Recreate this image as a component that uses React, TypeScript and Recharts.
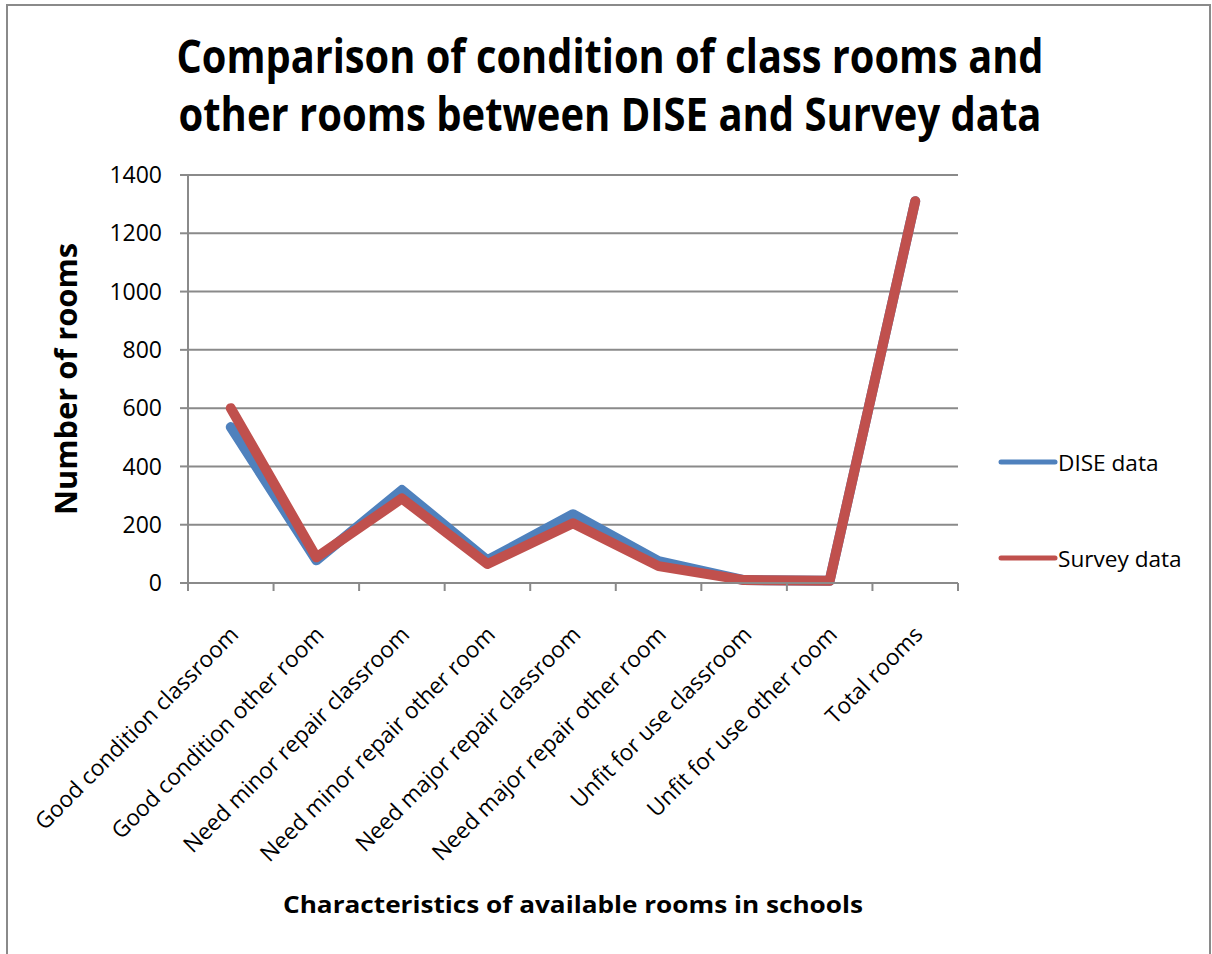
import React from "react";
import { LineChart, Line, XAxis, YAxis, CartesianGrid, Legend } from "recharts";

const categories = [
  "Good condition classroom",
  "Good condition other room",
  "Need minor repair classroom",
  "Need minor repair other room",
  "Need major repair classroom",
  "Need major repair other room",
  "Unfit for use classroom",
  "Unfit for use other room",
  "Total rooms",
];
const diseData = [535, 78, 319, 78, 236, 75, 10, 8, 1310];
const surveyData = [600, 88, 290, 65, 205, 58, 10, 8, 1310];
const yTicks = [0, 200, 400, 600, 800, 1000, 1200, 1400];

const data = categories.map((c, i) => ({ cat: c, dise: diseData[i], survey: surveyData[i] }));

const W = 1212;
const H = 954;
const PLOT_LEFT = 188;
const PLOT_RIGHT = 958;
const PLOT_TOP = 175;
const PLOT_BOTTOM = 583;
const HALF = (PLOT_RIGHT - PLOT_LEFT) / categories.length / 2;
const AXIS = "#8a8a8a";
const FONT = "'Open Sans', sans-serif";

const XTick = (props: any) => {
  const { x, payload, index } = props;
  const ay = PLOT_BOTTOM;
  const ax = x + 9;
  const ty = ay + 53;
  return (
    <g>
      <line x1={x - HALF} y1={ay} x2={x - HALF} y2={ay + 8} stroke={AXIS} strokeWidth={2} />
      {index === categories.length - 1 && (
        <line x1={x + HALF} y1={ay} x2={x + HALF} y2={ay + 8} stroke={AXIS} strokeWidth={2} />
      )}
      <text
        x={ax}
        y={ty}
        textAnchor="end"
        transform={`rotate(-45 ${ax} ${ty})`}
        fontSize={22.6}
        fontFamily={FONT}
        fill="#000"
      >
        {payload.value}
      </text>
    </g>
  );
};

const LegendContent = (props: any) => {
  const { payload } = props;
  return (
    <div style={{ position: "relative", width: 210, height: 140 }}>
      {(payload || []).map((p: any, i: number) => (
        <div
          key={i}
          style={{
            position: "absolute",
            left: 0,
            top: i * 96,
            height: 30,
            display: "flex",
            alignItems: "center",
          }}
        >
          <svg width={60} height={30} style={{ display: "block" }}>
            <line x1={3} y1={15} x2={57} y2={15} stroke={p.color} strokeWidth={5} strokeLinecap="round" />
          </svg>
          <span style={{ fontFamily: FONT, fontSize: 22.6, color: "#000", whiteSpace: "nowrap" }}>{p.value}</span>
        </div>
      ))}
    </div>
  );
};

export default function App() {
  return (
    <div style={{ position: "absolute", left: 0, top: 0, width: W, height: H, background: "#fff", overflow: "hidden" }}>
      <div
        style={{
          position: "absolute",
          left: 6,
          top: 4,
          width: 1205,
          height: 1000,
          boxSizing: "border-box",
          border: `2px solid ${AXIS}`,
        }}
      />
      <div style={{ position: "absolute", left: 0, top: 0 }}>
        <LineChart
          width={W}
          height={H}
          data={data}
          margin={{ top: PLOT_TOP, right: W - PLOT_RIGHT, bottom: 0, left: 0 }}
        >
          <CartesianGrid horizontal={true} vertical={false} stroke={AXIS} strokeWidth={2} />
          <XAxis
            dataKey="cat"
            interval={0}
            height={H - PLOT_BOTTOM}
            padding={{ left: HALF, right: HALF }}
            axisLine={{ stroke: AXIS, strokeWidth: 2 }}
            tickLine={false}
            tickSize={8}
            tickMargin={2}
            tick={<XTick />}
          />
          <YAxis
            width={PLOT_LEFT}
            domain={[0, 1400]}
            ticks={yTicks}
            interval={0}
            axisLine={{ stroke: AXIS, strokeWidth: 2 }}
            tickLine={{ stroke: AXIS, strokeWidth: 2 }}
            tickSize={8}
            tickMargin={18}
            tick={{ fontSize: 23, fontFamily: FONT, fill: "#000" }}
          />
          <Legend
            verticalAlign="middle"
            align="center"
            layout="vertical"
            content={<LegendContent />}
            wrapperStyle={{ position: "absolute", left: 998, top: 447, width: 210, height: 140 }}
          />
          <Line
            type="linear"
            dataKey="dise"
            name="DISE data"
            stroke="#4F81BD"
            strokeWidth={10}
            strokeLinecap="round"
            strokeLinejoin="round"
            dot={false}
            activeDot={false}
            isAnimationActive={false}
          />
          <Line
            type="linear"
            dataKey="survey"
            name="Survey data"
            stroke="#C0504D"
            strokeWidth={10}
            strokeLinecap="round"
            strokeLinejoin="round"
            dot={false}
            activeDot={false}
            isAnimationActive={false}
          />
        </LineChart>
      </div>
      <svg width={W} height={H} style={{ position: "absolute", left: 0, top: 0, pointerEvents: "none" }}>
        <text
          x={610}
          y={73}
          textAnchor="middle"
          fontFamily={FONT}
          fontWeight="bold"
          fontSize={46}
          textLength={867}
          lengthAdjust="spacingAndGlyphs"
          fill="#000"
        >
          Comparison of condition of class rooms and
        </text>
        <text
          x={610}
          y={131}
          textAnchor="middle"
          fontFamily={FONT}
          fontWeight="bold"
          fontSize={46}
          textLength={863}
          lengthAdjust="spacingAndGlyphs"
          fill="#000"
        >
          other rooms between DISE and Survey data
        </text>
        <text
          x={77}
          y={379}
          textAnchor="middle"
          transform="rotate(-90 77 379)"
          fontFamily={FONT}
          fontWeight="bold"
          fontSize={31}
          textLength={272}
          lengthAdjust="spacingAndGlyphs"
          fill="#000"
        >
          Number of rooms
        </text>
        <text
          x={573}
          y={913}
          textAnchor="middle"
          fontFamily={FONT}
          fontWeight="bold"
          fontSize={24}
          textLength={580}
          lengthAdjust="spacingAndGlyphs"
          fill="#000"
        >
          Characteristics of available rooms in schools
        </text>
      </svg>
    </div>
  );
}
